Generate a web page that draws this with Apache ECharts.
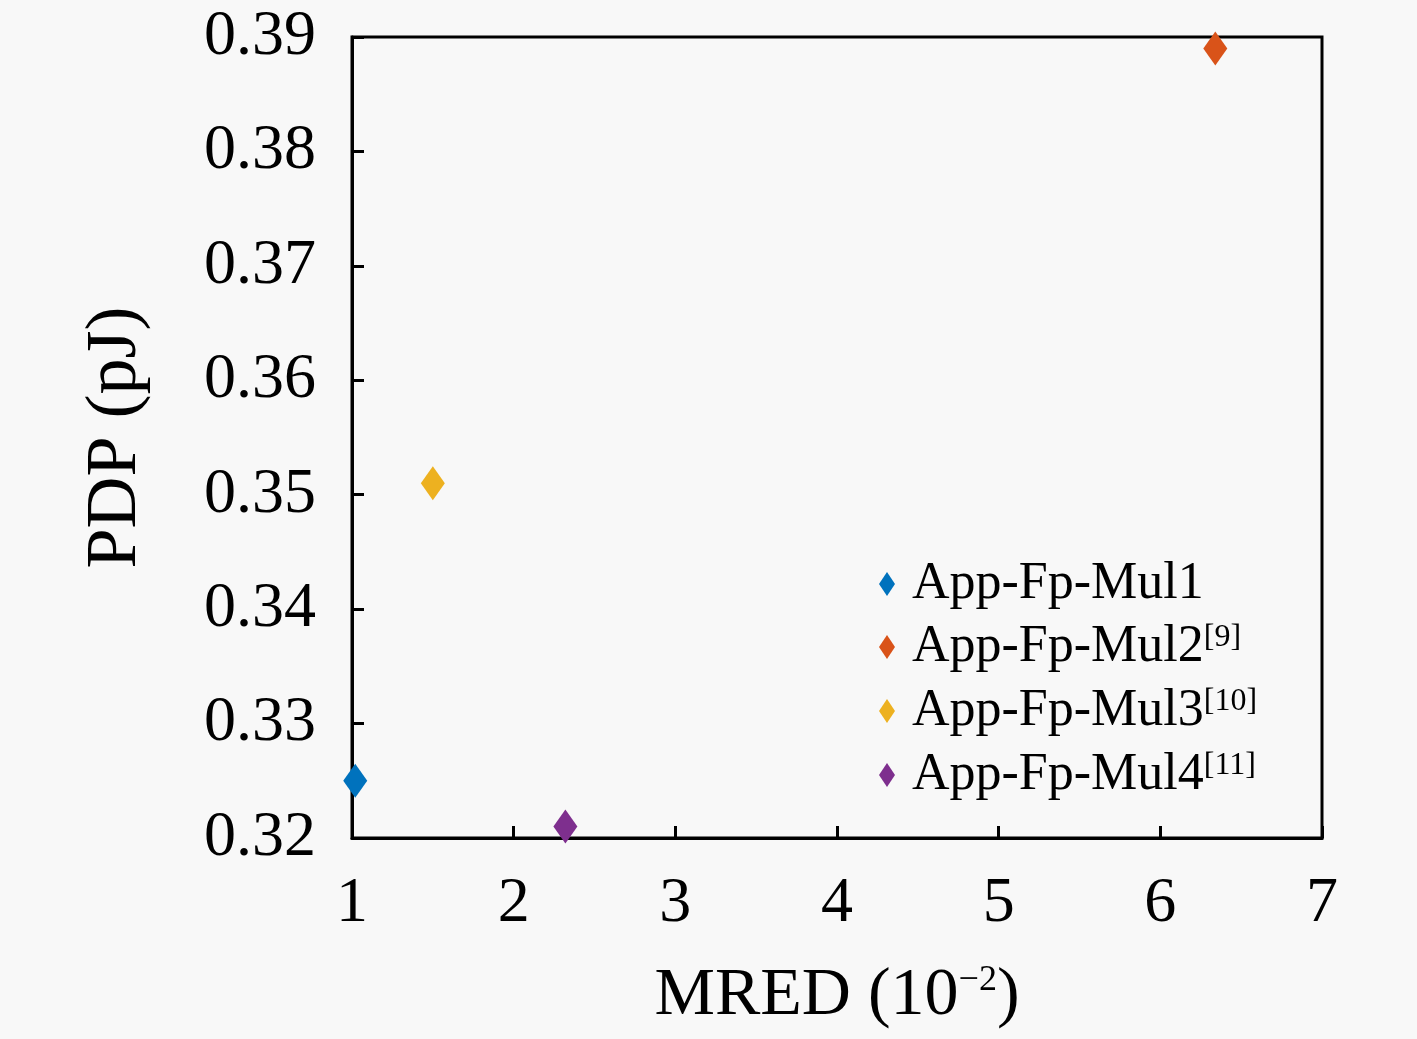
<!DOCTYPE html>
<html>
<head>
<meta charset="utf-8">
<script src="https://cdn.jsdelivr.net/npm/echarts@6/dist/echarts.min.js"></script>
<style>
html,body{margin:0;padding:0;background:#f8f8f8;}
#c{width:1417px;height:1039px;}
</style>
</head>
<body>
<div id="c"></div>
<script>
const seriesNames = ['App-Fp-Mul1', 'App-Fp-Mul2', 'App-Fp-Mul3', 'App-Fp-Mul4'];
const refs = ['', '9', '10', '11'];
const mredValues = [1.02, 6.34, 1.5, 2.32];
const pdpValues = [0.325, 0.389, 0.351, 0.321];
const colors = ['#0072BD', '#D95319', '#EDB120', '#7E2F8E'];
const xTicks = [1, 2, 3, 4, 5, 6, 7];
const yTicks = [0.32, 0.33, 0.34, 0.35, 0.36, 0.37, 0.38, 0.39];

const FONT = 'Liberation Serif';
const chart = echarts.init(document.getElementById('c'), null, {renderer: 'canvas'});

const series = seriesNames.map((n, i) => ({
  name: n,
  type: 'scatter',
  symbol: 'diamond',
  symbolSize: [24, 34],
  itemStyle: {color: colors[i], opacity: 1},
  data: [[mredValues[i], pdpValues[i]]],
  z: 5
}));

chart.setOption({
  backgroundColor: '#f8f8f8',
  animation: false,
  grid: {left: 352, right: 95, top: 37, bottom: 201, show: true, borderColor: '#000', borderWidth: 3, backgroundColor: 'transparent'},
  legend: {
    orient: 'vertical',
    left: 874,
    top: 553,
    itemWidth: 16,
    itemHeight: 24,
    itemGap: 11,
    icon: 'diamond',
    data: seriesNames,
    formatter: function (name) {
      const i = seriesNames.indexOf(name);
      return refs[i] ? '{m|' + name + '}{s|[' + refs[i] + ']}' : '{m|' + name + '}';
    },
    textStyle: {
      fontFamily: FONT,
      color: '#000',
      rich: {
        m: {fontFamily: FONT, fontSize: 52, lineHeight: 50, color: '#000', padding: [0, 0, 0, 12]},
        s: {fontFamily: FONT, fontSize: 32, lineHeight: 50, color: '#000', verticalAlign: 'top', padding: [0, 0, 20, 0]}
      }
    }
  },
  xAxis: {
    type: 'value',
    min: xTicks[0],
    max: xTicks[xTicks.length - 1],
    interval: 1,
    splitLine: {show: false},
    axisLine: {show: true, onZero: false, lineStyle: {color: '#000', width: 3}},
    axisTick: {show: true, inside: true, length: 12, lineStyle: {color: '#000', width: 3}},
    axisLabel: {fontFamily: FONT, fontSize: 64, color: '#000', margin: 34},
    name: '{m|MRED (10}{s|−2}{m|)}',
    nameLocation: 'middle',
    nameGap: 124,
    nameTextStyle: {
      rich: {
        m: {fontFamily: FONT, fontSize: 68, color: '#000'},
        s: {fontFamily: FONT, fontSize: 36, color: '#000', padding: [0, 0, 30, 0]}
      }
    }
  },
  yAxis: {
    type: 'value',
    min: yTicks[0],
    max: yTicks[yTicks.length - 1],
    interval: 0.01,
    splitLine: {show: false},
    axisLine: {show: true, onZero: false, lineStyle: {color: '#000', width: 3}},
    axisTick: {show: true, inside: true, length: 12, lineStyle: {color: '#000', width: 3}},
    axisLabel: {fontFamily: FONT, fontSize: 64, color: '#000', margin: 36, padding: [8, 0, 0, 0], formatter: v => v.toFixed(2)},
    name: 'PDP (pJ)',
    nameLocation: 'middle',
    nameGap: 200,
    nameRotate: 90,
    nameTextStyle: {fontFamily: FONT, fontSize: 72, color: '#000'}
  },
  series: series
});
</script>
</body>
</html>
